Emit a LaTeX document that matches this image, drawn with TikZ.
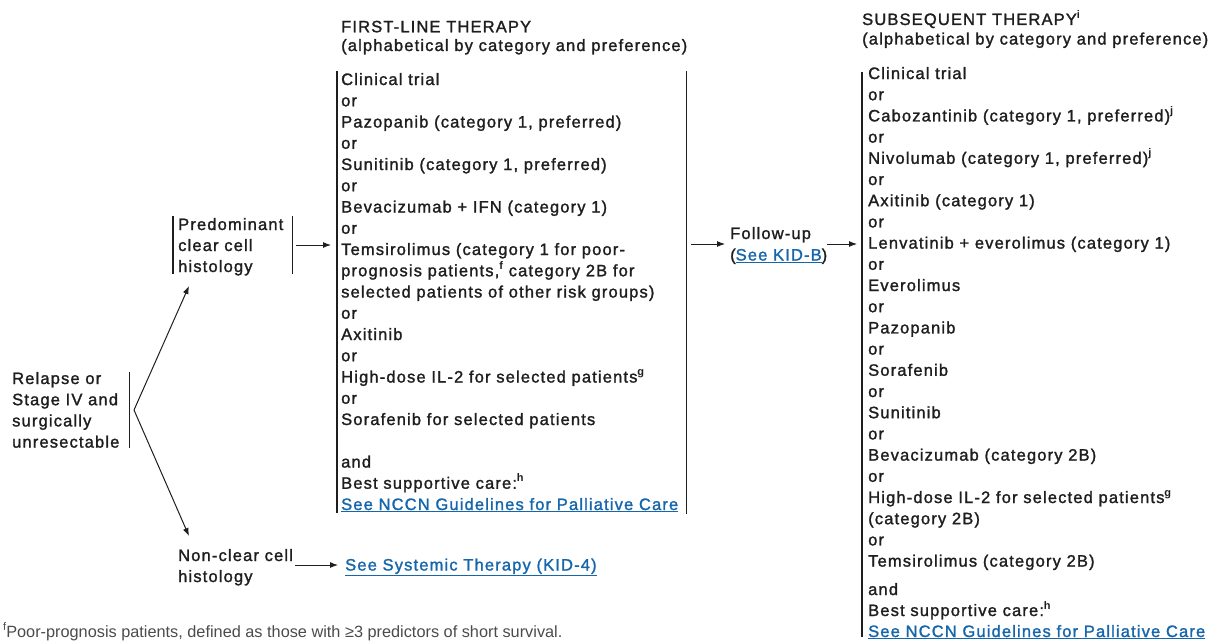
\documentclass[tikz,border=0pt]{standalone}
\usepackage{fontspec}
\setmainfont{Liberation Sans}[LetterSpace=7,FakeBold=1.5]
\newfontfamily\fnfont{Liberation Sans}
\newfontfamily\supfont{Liberation Sans Bold}
\usetikzlibrary{arrows.meta}
\definecolor{ink}{RGB}{30,30,30}
\definecolor{linkblue}{RGB}{22,102,172}
\newcommand{\sups}[1]{\raisebox{0.42em}{\supfont\fontsize{11}{10}\selectfont #1}}
\newcommand{\lnk}[1]{\textcolor{linkblue}{\underline{#1}}}
\begin{document}
\begin{tikzpicture}[x=1pt,y=-1pt,
  txt/.style={anchor=base west,inner sep=0pt,font=\fontsize{16.5}{20}\selectfont,text=ink},
  bar/.style={line width=1.7pt,draw=ink},
  arr/.style={line width=1pt,draw=ink,-{Latex[length=8pt,width=6pt]}}]
\useasboundingbox (0,0) rectangle (1220,642);

% left: relapse
\foreach \k/\t in {0/Relapse or,1/Stage IV and,2/surgically,3/unresectable}
  \node[txt] (rel\k) at (12,384+21.2*\k) {\t};
\draw[bar] (129.5,372) -- (129.5,448);
\coordinate (split) at (134,410);
\coordinate (predtip) at (189,286);
\coordinate (nontip) at (189,536);
\draw[arr] (split) -- (predtip);
\draw[arr] (split) -- (nontip);

% predominant clear cell
\foreach \k/\t in {0/Predominant,1/clear cell,2/histology}
  \node[txt] (pred\k) at (178,230+21*\k) {\t};
\draw[bar] (173,216) -- (173,274);
\draw[bar] (292.5,216) -- (292.5,274);
\coordinate (predout) at (296,245);
\coordinate (flin) at (331,245);
\draw[arr] (predout) -- (flin);

% non-clear cell
\node[txt] (non0) at (178,561) {Non-clear cell};
\node[txt] (non1) at (178,582) {histology};
\coordinate (nonout) at (295,565);
\coordinate (sysin) at (338,565);
\draw[arr] (nonout) -- (sysin);
\node[txt] (sys) at (345,570.5) {\lnk{See Systemic Therapy (KID-4)}};

% first-line therapy
\node[txt] (flh1) at (341,32.3) {FIRST-LINE THERAPY};
\node[txt] (flh2) at (341,51) {(alphabetical by category and preference)};
\draw[bar] (337,71) -- (337,513);
\draw[bar] (686.5,71) -- (686.5,514);
\foreach \k/\t in {0/Clinical trial,1/or,2/{Pazopanib (category 1, preferred)},3/or,
  4/{Sunitinib (category 1, preferred)},5/or,6/{Bevacizumab + IFN (category 1)},7/or,
  8/{Temsirolimus (category 1 for poor-},9/{prognosis patients,\sups{f} category 2B for},
  10/{selected patients of other risk groups)},11/or,12/Axitinib,13/or,
  14/{High-dose IL-2 for selected patients\sups{g}},15/or,16/{Sorafenib for selected patients},
  18/and,19/{Best supportive care:\sups{h}},20/{\lnk{See NCCN Guidelines for Palliative Care}}}
  \node[txt] (fl\k) at (341,85+21.25*\k) {\t};

% follow-up
\coordinate (flout) at (691,244);
\coordinate (fuin) at (725,244);
\draw[arr] (flout) -- (fuin);
\node[txt] (fu1) at (730,239) {Follow-up};
\node[txt] (fu2) at (730,260.5) {(\lnk{See KID-B})};
\coordinate (fuout) at (827,244);
\coordinate (subin) at (857,244);
\draw[arr] (fuout) -- (subin);

% subsequent therapy
\node[txt] (sbh1) at (862,25) {SUBSEQUENT THERAPY\sups{i}};
\node[txt] (sbh2) at (862,44.5) {(alphabetical by category and preference)};
\draw[bar] (862,72) -- (862,637);
\foreach \k/\t in {0/Clinical trial,1/or,2/{Cabozantinib (category 1, preferred)\sups{j}},3/or,
  4/{Nivolumab (category 1, preferred)\sups{j}},5/or,6/{Axitinib (category 1)},7/or,
  8/{Lenvatinib + everolimus (category 1)},9/or,10/Everolimus,11/or,12/Pazopanib,13/or,
  14/Sorafenib,15/or,16/Sunitinib,17/or,18/{Bevacizumab (category 2B)},19/or,
  20/{High-dose IL-2 for selected patients\sups{g}},21/{(category 2B)},22/or,
  23/{Temsirolimus (category 2B)}}
  \node[txt] (sb\k) at (868,79+21.2*\k) {\t};
\node[txt] (sband) at (868,595) {and};
\node[txt] (sbbest) at (868,616) {Best supportive care:\sups{h}};
\node[txt] (sblink) at (868,637) {\lnk{See NCCN Guidelines for Palliative Care}};

% footnote
\node[anchor=base west,inner sep=0pt,text=ink!80,font=\fnfont\fontsize{16.3}{18}\selectfont] (fn) at (3,637.5)
  {\raisebox{0.4em}{\fontsize{11}{10}\selectfont f}Poor-prognosis patients, defined as those with ≥3 predictors of short survival.};
\end{tikzpicture}
\end{document}
